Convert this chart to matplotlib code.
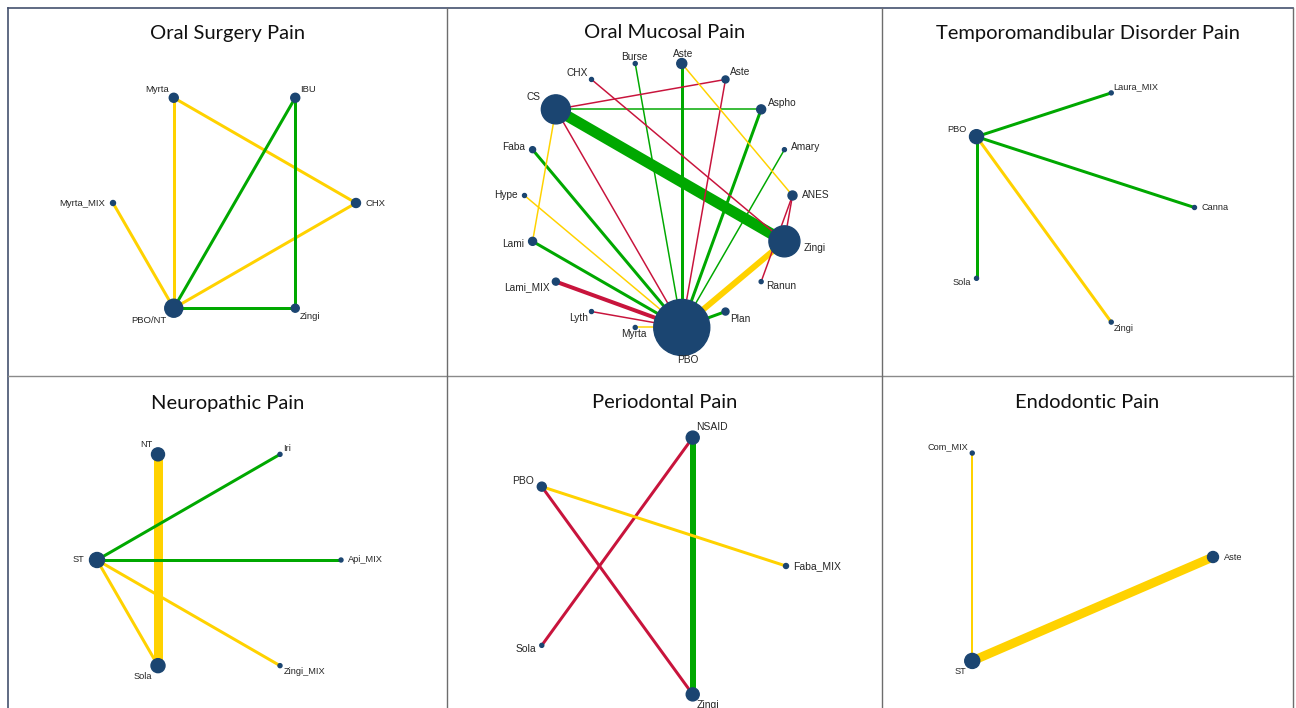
import numpy as np
import matplotlib.pyplot as plt
from matplotlib.patches import Circle

# ---- data: treatments (counter-clockwise from 0 deg), node sizes, comparisons ----
os_nodes = ["CHX", "IBU", "Myrta", "Myrta_MIX", "PBO/NT", "Zingi"]
os_size = [4.5, 4.5, 4.5, 2.5, 9, 4]
os_edges = [("Myrta", "PBO/NT", "y", 3), ("Myrta", "CHX", "y", 3),
            ("Myrta_MIX", "PBO/NT", "y", 3), ("PBO/NT", "CHX", "y", 3),
            ("PBO/NT", "IBU", "g", 3), ("IBU", "Zingi", "g", 3),
            ("PBO/NT", "Zingi", "g", 3)]

om_nodes = ["ANES", "Amary", "Aspho", "Aste.2", "Aste", "Burse", "CHX", "CS", "Faba",
            "Hype", "Lami", "Lami_MIX", "Lyth", "Myrta", "PBO", "Plan", "Ranun", "Zingi"]
om_size = [4.5, 2, 4.5, 3.5, 5, 2, 2, 14.5, 3, 2, 4, 3.5, 2, 2, 28, 3.5, 2, 15.5]
om_edges = [("CS", "Zingi", "g", 11), ("Zingi", "PBO", "y", 6),
            ("Lami_MIX", "PBO", "r", 4), ("Aste", "PBO", "g", 3),
            ("Aspho", "PBO", "g", 3), ("Faba", "PBO", "g", 3),
            ("Lami", "PBO", "g", 3), ("Plan", "PBO", "g", 3),
            ("Burse", "PBO", "g", 1.5), ("Amary", "PBO", "g", 1.5),
            ("CS", "Aspho", "g", 1.5), ("CS", "Aste.2", "r", 1.5),
            ("CS", "PBO", "r", 1.5), ("CS", "Lami", "y", 1.5),
            ("CHX", "Zingi", "r", 1.5), ("Aste.2", "PBO", "r", 1.5),
            ("Aste", "ANES", "y", 1.5), ("ANES", "Zingi", "r", 1.5),
            ("ANES", "Ranun", "r", 1.5), ("Hype", "PBO", "y", 1.5),
            ("Lyth", "PBO", "r", 1.5), ("Myrta", "PBO", "y", 1.5)]

tmd_nodes = ["Canna", "Laura_MIX", "PBO", "Sola", "Zingi"]
tmd_size = [2, 2, 7, 2, 2]
tmd_edges = [("PBO", "Laura_MIX", "g", 3), ("PBO", "Canna", "g", 3),
             ("PBO", "Sola", "g", 3), ("PBO", "Zingi", "y", 3)]

np_nodes = ["Api_MIX", "Iri", "NT", "ST", "Sola", "Zingi_MIX"]
np_size = [2, 2, 6.5, 7.5, 7, 2]
np_edges = [("NT", "Sola", "y", 9), ("ST", "Iri", "g", 3), ("ST", "Api_MIX", "g", 3),
            ("ST", "Sola", "y", 3), ("ST", "Zingi_MIX", "y", 3)]

pd_nodes = ["Faba_MIX", "NSAID", "PBO", "Sola", "Zingi"]
pd_size = [2.5, 6.5, 4.5, 2, 6.5]
pd_edges = [("NSAID", "Zingi", "g", 6), ("NSAID", "Sola", "r", 3),
            ("PBO", "Zingi", "r", 3), ("PBO", "Faba_MIX", "y", 3)]

en_nodes = ["Aste", "Com_MIX", "ST"]
en_size = [5.5, 2, 7.5]
en_edges = [("ST", "Aste", "y", 9), ("Com_MIX", "ST", "y", 2)]

COL = {"g": "#00a800", "y": "#ffd200", "r": "#c8143c"}
NODE = "#1b4571"

fig = plt.figure(figsize=(12.96, 7.08), dpi=100)
ax = fig.add_axes([0, 0, 1, 1])
ax.set_xlim(0, 1296)
ax.set_ylim(708, 0)
ax.axis("off")

# cell grid
xs_grid = [8, 447, 882, 1293]
ax.plot([8, 1293], [8, 8], color="#44516e", lw=1.2)
ax.plot([8, 8], [8, 708], color="#44516e", lw=1.2)
ax.plot([8, 1293], [376, 376], color="#8a8a8a", lw=1.0)
for x in xs_grid[1:]:
    ax.plot([x, x], [8, 708], color="#6d6d6d", lw=1.0)


def draw_panel(title, cell, centre, radius, names, sizes, edges, fs):
    cx, cy = centre
    rx, ry = radius
    n = len(names)
    ang = np.radians(np.arange(n) * 360.0 / n)
    px = cx + rx * np.cos(ang)
    py = cy - ry * np.sin(ang)
    pos = {nm: (px[i], py[i]) for i, nm in enumerate(names)}
    for a, b, c, w in edges:
        ax.plot([pos[a][0], pos[b][0]], [pos[a][1], pos[b][1]], color=COL[c],
                lw=w * 0.72, solid_capstyle="butt", zorder=1)
    for i, nm in enumerate(names):
        ax.add_patch(Circle((px[i], py[i]), sizes[i], color=NODE, zorder=3))
        co, si = np.cos(ang[i]), np.sin(ang[i])
        off = sizes[i] + 5
        ha = "left" if co > 0.3 else ("right" if co < -0.3 else "center")
        ax.text(px[i] + off * co, py[i] - off * si, nm.split(".")[0], ha=ha, va="center",
                fontsize=fs, family="Liberation Sans", color="#262626", zorder=4)
    x0, x1, ty = cell
    ax.text((x0 + x1) / 2, ty, title, ha="center", va="center", fontsize=14.5,
            family="Lato", color="#111111")


draw_panel("Oral Surgery Pain", (8, 447, 33), (234.5, 203), (121.5, 121.5),
           os_nodes, os_size, os_edges, 6.8)
draw_panel("Oral Mucosal Pain", (447, 882, 32), (658.5, 195.5), (134, 134),
           om_nodes, om_size, om_edges, 7.3)
draw_panel("Temporomandibular Disorder Pain", (882, 1293, 33), (1074, 207.5), (120.5, 120.5),
           tmd_nodes, tmd_size, tmd_edges, 6.6)
draw_panel("Neuropathic Pain", (8, 447, 403), (219, 560), (122, 122),
           np_nodes, np_size, np_edges, 6.7)
draw_panel("Periodontal Pain", (447, 882, 403), (651, 566), (135, 135),
           pd_nodes, pd_size, pd_edges, 7.5)
draw_panel("Endodontic Pain", (882, 1293, 403), (1052.5, 557), (160.5, 120),
           en_nodes, en_size, en_edges, 6.6)

fig.savefig("out.png", dpi=100)
